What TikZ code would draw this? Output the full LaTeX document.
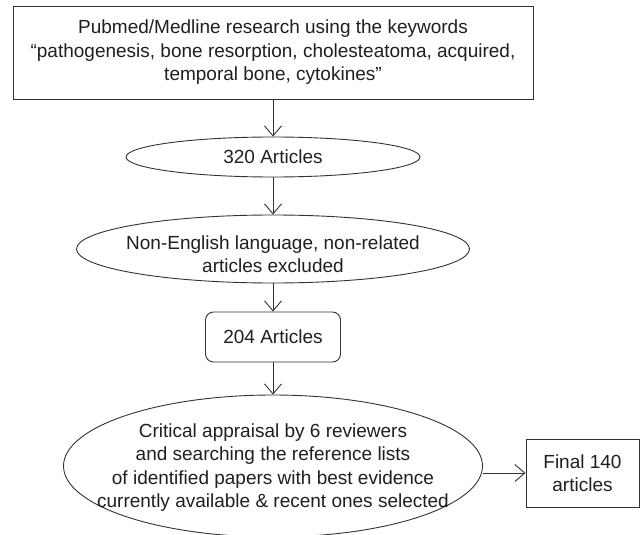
\documentclass[tikz,border=0pt]{standalone}
\usepackage{fontspec}
\setmainfont{Liberation Sans}
\usetikzlibrary{shapes.geometric,arrows.meta}
\begin{document}
\begin{tikzpicture}[x=1pt,y=-1pt,
  every node/.style={font=\fontsize{19}{23.5}\selectfont, text=black!88, align=center},
  outl/.style={draw=black!80, line width=0.9pt},
  sqbox/.style={outl, rectangle, inner sep=0pt},
  rbox/.style={outl, rectangle, rounded corners=8pt, inner sep=0pt},
  ell/.style={outl, ellipse, inner sep=0pt},
  txt/.style={inner sep=0pt},
  arr/.style={draw=black!80, line width=0.9pt, -{Straight Barb[length=10pt,width=17pt]}}]
\useasboundingbox (0,0) rectangle (641,535);
\node[sqbox, minimum width=520pt, minimum height=93pt] (search) at (273,52.5)
  {Pubmed/Medline research using the keywords\\“pathogenesis, bone resorption, cholesteatoma, acquired,\\temporal bone, cytokines”};
\node[ell, minimum width=294pt, minimum height=40pt] (e320) at (273,157) {};
\node[txt] (e320t) at (e320) {320 Articles};
\node[ell, minimum width=393pt, minimum height=68pt] (excl) at (273,249) {};
\node[txt] (exclt) at (273,254) {Non-English language, non-related\\articles excluded};
\node[rbox, minimum width=135pt, minimum height=50pt] (a204) at (273,337) {204 Articles};
\node[ell, minimum width=419pt, minimum height=142pt] (crit) at (273,466) {};
\node[txt] (critt) at (273,467.5)
  {Critical appraisal by 6 reviewers\\and searching the reference lists\\of identified papers with best evidence\\currently available \& recent ones selected};
\node[sqbox, minimum width=113pt, minimum height=68pt] (final) at (582.5,473) {Final 140\\articles};
\draw[arr] (search.south) -- (e320.north);
\draw[arr] (e320.south) -- (excl.north);
\draw[arr] (excl.south) -- (a204.north);
\draw[arr] (a204.south) -- (crit.north);
\draw[arr] (crit.east |- final.west) -- (final.west);
\end{tikzpicture}
\end{document}
